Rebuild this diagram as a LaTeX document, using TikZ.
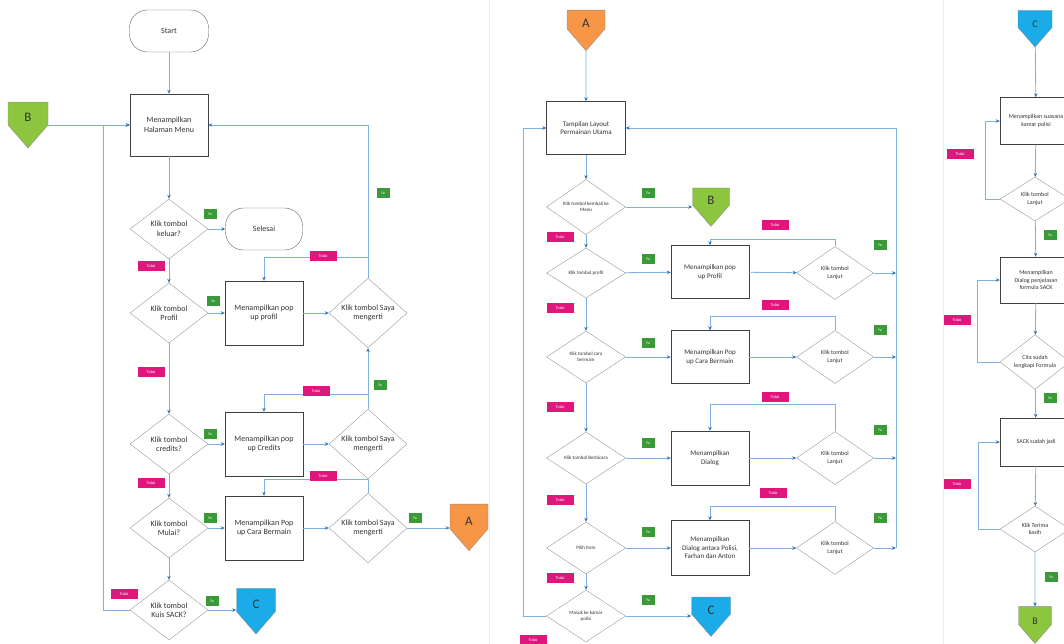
\documentclass[tikz,border=0pt]{standalone}
\usepackage{fontspec}
\setmainfont{Carlito}
\usetikzlibrary{shapes.geometric,shapes.symbols,arrows.meta}

\definecolor{flowblue}{HTML}{7FB0DE}
\definecolor{tipblue}{HTML}{2E75B6}
\definecolor{yagreen}{HTML}{3A9A3A}
\definecolor{tidakpink}{HTML}{E0167C}
\definecolor{pageA}{HTML}{F79646}
\definecolor{pageB}{HTML}{8CC63F}
\definecolor{pageC}{HTML}{1AABE8}

\tikzset{
  procbox/.style={draw=black!75, fill=white, minimum width=78pt, minimum height=62pt, align=center, inner sep=2pt},
  decision/.style={diamond, draw=black!40, fill=white, minimum width=78pt, minimum height=60pt, inner sep=0pt, align=center},
  terminal/.style={draw=black!60, fill=white, rounded corners=18pt, minimum width=79pt, minimum height=42pt},
  offpage/.style={signal, signal to=south, signal pointer angle=82, draw=black!45, minimum width=38pt, minimum height=27pt, inner sep=0pt, text height=17pt, text depth=0pt, font=\fontsize{13}{14}\selectfont},
  flow/.style={draw=flowblue, line width=0.8pt, -{Stealth[length=4pt,width=3.5pt,color=tipblue]}},
  ya/.style={fill=yagreen, text=white, font=\fontsize{4}{4}\selectfont, minimum width=13pt, minimum height=10pt, inner sep=1pt},
  tidak/.style={fill=tidakpink, text=white, font=\fontsize{4}{4}\selectfont, minimum width=27pt, minimum height=10pt, inner sep=1pt},
}

\begin{document}
\begin{tikzpicture}[x=1pt, y=-1pt, text=black!80]
  \useasboundingbox (0,0) rectangle (1064,644);
  \draw[black!7] (489,0) -- (489,644) (943,0) -- (943,644);  % page edges

  % ---- menu page ----
  \begin{scope}[font=\fontsize{8}{9.5}\selectfont]
  \node[terminal] (start) at (169,31) {Start};
  \node[procbox] (menu) at (169,125) {Menampilkan\\Halaman Menu};
  \node[offpage, fill=pageB, minimum width=40pt] (inB) at (28,113.5) {B};
  \node[decision] (keluar) at (169,229) {Klik tombol\\keluar?};
  \node[terminal, minimum width=77pt] (selesai) at (264,229) {Selesai};
  \node[decision] (profil) at (169,313) {Klik tombol\\Profil};
  \node[procbox, minimum height=64pt] (popProfil) at (264,313) {Menampilkan pop\\up profil};
  \node[decision] (ok1) at (368,313) {Klik tombol Saya\\mengerti};
  \node[decision] (credits) at (169,444) {Klik tombol\\credits?};
  \node[procbox, minimum height=64pt] (popCredits) at (264,444) {Menampilkan pop\\up Credits};
  \node[decision] (ok2) at (368,444) {Klik tombol Saya\\mengerti};
  \node[decision] (mulai) at (169,528) {Klik tombol\\Mulai?};
  \node[procbox, minimum height=64pt] (popCara) at (264,528) {Menampilkan Pop\\up Cara Bermain};
  \node[decision] (ok3) at (368,528) {Klik tombol Saya\\mengerti};
  \node[offpage, fill=pageA, minimum height=29pt] (toA) at (469,516.5) {A};
  \node[decision] (kuis) at (169,610) {Klik tombol\\Kuis SACK?};
  \node[offpage, fill=pageC, minimum width=39pt] (toC) at (256,600) {C};
  \end{scope}

  \coordinate (loopL) at (103,125);
  \draw[flow] (start) -- (menu);
  \draw[flow] (menu.west -| inB.east) -- (menu.west);
  \draw[flow] (menu) -- (keluar);
  \draw[flow] (keluar) -- (selesai);
  \draw[flow] (keluar) -- (profil);
  \draw[flow] (profil) -- (popProfil);
  \draw[flow] (popProfil) -- (ok1);
  \draw[flow] (ok1.north) |- (menu.east);
  \draw[flow] (ok1.north) -- ++(0,-21) -| (popProfil.north);
  \draw[flow] (profil) -- (credits);
  \draw[flow] (credits) -- (popCredits);
  \draw[flow] (popCredits) -- (ok2);
  \draw[flow] (ok2) -- (ok1);
  \draw[flow] (ok2.north) -- ++(0,-15) -| (popCredits.north);
  \draw[flow] (credits) -- (mulai);
  \draw[flow] (mulai) -- (popCara);
  \draw[flow] (popCara) -- (ok3);
  \draw[flow] (ok3.east) -- (ok3.east -| toA.west);
  \draw[flow] (ok3.north) -- ++(0,-14) -| (popCara.north);
  \draw[flow] (mulai) -- (kuis);
  \draw[flow] (kuis.east) -- (kuis.east -| toC.west);
  \draw[flow] (kuis.west) -| (loopL) -- (menu.west);

  \node[ya] (ya1) at (210,214) {Ya};
  \node[ya] (ya2) at (213,301) {Ya};
  \node[ya] (ya3) at (210,434) {Ya};
  \node[ya] (ya4) at (210,518) {Ya};
  \node[ya] (ya5) at (212,601) {Ya};
  \node[ya] (ya6) at (383,193) {Ya};
  \node[ya] (ya7) at (380,385) {Ya};
  \node[ya] (ya8) at (415,518) {Ya};
  \node[tidak] (td1) at (151,266) {Tidak};
  \node[tidak] (td2) at (151,372) {Tidak};
  \node[tidak] (td3) at (323,256) {Tidak};
  \node[tidak] (td4) at (316,391) {Tidak};
  \node[tidak] (td5) at (151,483) {Tidak};
  \node[tidak] (td6) at (323,476) {Tidak};
  \node[tidak] (td7) at (124,594) {Tidak};

  % ---- game page ----
  \begin{scope}[font=\fontsize{7}{8.5}\selectfont]
  \node[offpage, fill=pageA, minimum height=23pt] (fromA) at (586,19.5) {A};
  \node[procbox, minimum width=79pt, minimum height=53pt] (layout) at (586,128) {Tampilan Layout\\Permainan Utama};
  \node[offpage, fill=pageB, minimum width=37pt, minimum height=21pt] (toB2) at (711,196.5) {B};
  \node[procbox, minimum height=53pt] (pop2) at (710,272) {Menampilkan pop\\up Profil};
  \node[procbox, minimum height=53pt] (pop3) at (710,357) {Menampilkan Pop\\up Cara Bermain};
  \node[procbox, minimum height=54pt] (dialog1) at (710,458) {Menampilkan\\Dialog};
  \node[procbox, minimum height=55pt] (dialog2) at (710,548) {Menampilkan\\Dialog antara Polisi,\\Farhan dan Anton};
  \node[offpage, fill=pageC, minimum width=39pt, minimum height=21pt] (toC2) at (711,605.5) {C};
  \end{scope}
  \begin{scope}[font=\fontsize{5}{6}\selectfont]
  \node[decision, minimum width=79pt, minimum height=50pt] (d1) at (586,207) {Klik tombol kembali ke\\Menu};
  \node[decision, minimum width=79pt, minimum height=50pt] (d2) at (586,273) {Klik tombol profil};
  \node[decision, minimum width=79pt, minimum height=52pt] (d3) at (586,357) {Klik tombol cara\\bermain};
  \node[decision, minimum width=79pt, minimum height=52pt] (d4) at (586,458) {Klik tombol Berbicara};
  \node[decision, minimum width=79pt, minimum height=52pt] (d5) at (586,548) {Pilih Item};
  \node[decision, minimum width=79pt, minimum height=52pt] (d6) at (586,616) {Masuk ke kamar\\polisi};
  \end{scope}
  \begin{scope}[font=\fontsize{6}{7.5}\selectfont]
  \node[decision, minimum width=77pt, minimum height=53pt] (lanjut1) at (835,273) {Klik tombol\\Lanjut};
  \node[decision, minimum width=77pt, minimum height=53pt] (lanjut2) at (835,357) {Klik tombol\\Lanjut};
  \node[decision, minimum width=77pt, minimum height=53pt] (lanjut3) at (835,458) {Klik tombol\\Lanjut};
  \node[decision, minimum width=77pt, minimum height=53pt] (lanjut4) at (835,548) {Klik tombol\\Lanjut};
  \end{scope}

  \coordinate (loopL2) at (523,128);
  \coordinate (loopR2) at (896,128);
  \draw[flow] (fromA) -- (layout);
  \draw[flow] (layout) -- (d1);
  \draw[flow] (d1.east) -- (d1.east -| toB2.west);
  \draw[flow] (d1) -- (d2);
  \draw[flow] (d2) -- (pop2);
  \draw[flow] (pop2) -- (lanjut1);
  \draw[flow] (lanjut1.north) -- ++(0,-7) -| (pop2.north);
  \draw[flow] (lanjut1.east) -- (lanjut1.east -| loopR2);
  \draw[flow] (d2) -- (d3);
  \draw[flow] (d3) -- (pop3);
  \draw[flow] (pop3) -- (lanjut2);
  \draw[flow] (lanjut2.north) -- ++(0,-14) -| (pop3.north);
  \draw[flow] (lanjut2.east) -- (lanjut2.east -| loopR2);
  \draw[flow] (d3) -- (d4);
  \draw[flow] (d4) -- (dialog1);
  \draw[flow] (dialog1) -- (lanjut3);
  \draw[flow] (lanjut3.north) -- ++(0,-27) -| (dialog1.north);
  \draw[flow] (lanjut3.east) -- (lanjut3.east -| loopR2);
  \draw[flow] (d4) -- (d5);
  \draw[flow] (d5) -- (dialog2);
  \draw[flow] (dialog2) -- (lanjut4);
  \draw[flow] (lanjut4.north) -- ++(0,-15) -| (dialog2.north);
  \draw[flow] (lanjut4.east) -- (lanjut4.east -| loopR2);
  \draw[flow] (lanjut4.east -| loopR2) -- (loopR2) -- (layout.east);
  \draw[flow] (d5) -- (d6);
  \draw[flow] (d6.east) -- (d6.east -| toC2.west);
  \draw[flow] (d6.west) -| (loopL2) -- (layout.west);

  \node[ya] (ya9) at (648,193) {Ya};
  \node[ya] (ya10) at (648,259) {Ya};
  \node[ya] (ya11) at (648,343) {Ya};
  \node[ya] (ya12) at (648,443) {Ya};
  \node[ya] (ya13) at (648,532) {Ya};
  \node[ya] (ya14) at (648,600) {Ya};
  \node[ya] (ya15) at (880,245) {Ya};
  \node[ya] (ya16) at (880,330) {Ya};
  \node[ya] (ya17) at (880,430) {Ya};
  \node[ya] (ya18) at (880,518) {Ya};
  \node[tidak] (td8) at (560,237) {Tidak};
  \node[tidak] (td9) at (560,308) {Tidak};
  \node[tidak] (td10) at (560,407) {Tidak};
  \node[tidak] (td11) at (560,500) {Tidak};
  \node[tidak] (td12) at (560,578) {Tidak};
  \node[tidak] (td13) at (533,640) {Tidak};
  \node[tidak] (td14) at (775,225) {Tidak};
  \node[tidak] (td15) at (775,305) {Tidak};
  \node[tidak] (td16) at (775,397) {Tidak};
  \node[tidak] (td17) at (773,493) {Tidak};

  % ---- kuis page ----
  \begin{scope}[font=\fontsize{6}{7.5}\selectfont]
  \node[offpage, fill=pageC, minimum width=34pt, minimum height=18.5pt, font=\fontsize{10}{11}\selectfont] (fromC) at (1035,19) {C};
  \node[procbox, minimum width=72pt, minimum height=47pt] (suasana) at (1036,121) {Menampilkan suasana\\kamar polisi};
  \node[decision, minimum width=70pt, minimum height=44pt] (lanjut5) at (1035,199) {Klik tombol\\Lanjut};
  \node[procbox, minimum width=72pt, minimum height=46pt] (penjelasan) at (1036,280) {Menampilkan\\Dialog penjelasan\\formula SACK};
  \node[decision, minimum width=70pt, minimum height=46pt] (lengkap) at (1035,362) {Cita sudah\\lengkapi Formula};
  \node[procbox, minimum width=72pt, minimum height=48pt] (jadi) at (1036,442) {SACK sudah jadi};
  \node[decision, minimum width=70pt, minimum height=46pt] (terima) at (1035,529) {Klik Terima\\kasih};
  \node[offpage, fill=pageB, minimum width=33pt, minimum height=21pt, font=\fontsize{10}{11}\selectfont] (toB3) at (1035,615.5) {B};
  \end{scope}

  \draw[flow] (fromC) -- (suasana);
  \draw[flow] (suasana) -- (lanjut5);
  \draw[flow] (lanjut5) -- (penjelasan);
  \draw[flow] (penjelasan) -- (lengkap);
  \draw[flow] (lengkap) -- (jadi);
  \draw[flow] (jadi) -- (terima);
  \draw[flow] (terima) -- (toB3);
  \draw[flow] (lanjut5.west) -- ++(-14,0) |- (suasana.west);
  \draw[flow] (lengkap.west) -- ++(-22,0) |- (penjelasan.west);
  \draw[flow] (terima.west) -- ++(-21,0) |- (jadi.west);

  \node[ya] (ya19) at (1050,235) {Ya};
  \node[ya] (ya20) at (1050,398) {Ya};
  \node[ya] (ya21) at (1051,577) {Ya};
  \node[tidak] (td18) at (960,154) {Tidak};
  \node[tidak] (td19) at (957,320) {Tidak};
  \node[tidak] (td20) at (957,484) {Tidak};
\end{tikzpicture}
\end{document}
